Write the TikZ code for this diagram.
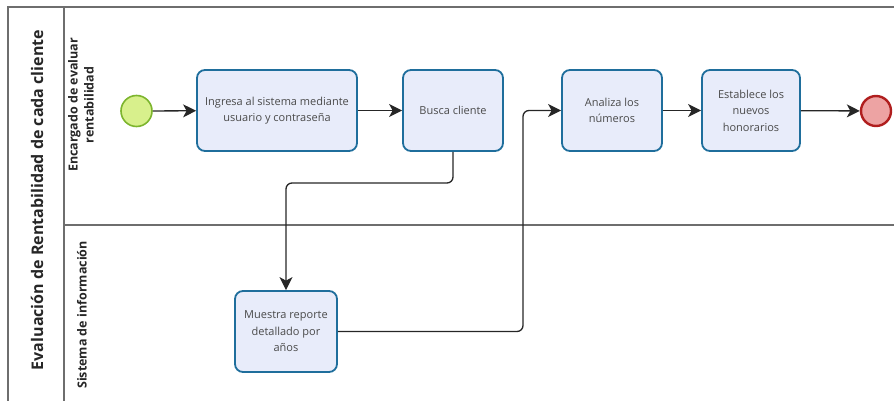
\documentclass[tikz,border=0pt]{standalone}
\usepackage{fontspec}
\setmainfont{Open Sans}
\usetikzlibrary{arrows.meta}
\definecolor{laneline}{HTML}{6E6E6E}
\definecolor{taskfill}{HTML}{E8ECFA}
\definecolor{taskdraw}{HTML}{1F6E9C}
\definecolor{startfill}{HTML}{D8F08C}
\definecolor{startdraw}{HTML}{7DB52E}
\definecolor{endfill}{HTML}{EDA3A3}
\definecolor{enddraw}{HTML}{B01E1E}
\definecolor{tasktext}{HTML}{4A4A4A}
\begin{document}
\begin{tikzpicture}[x=1pt,y=-1pt,
  lane/.style={draw=laneline,line width=1.4pt},
  task/.style={draw=taskdraw,fill=taskfill,line width=1.8pt,rounded corners=8pt,
    minimum height=81pt,inner sep=2pt,align=center,text=tasktext,
    font=\fontsize{11}{16.5}\selectfont},
  startev/.style={circle,draw=startdraw,fill=startfill,line width=1.6pt,minimum size=31pt,inner sep=0pt},
  endev/.style={circle,draw=enddraw,fill=endfill,line width=2.4pt,minimum size=30pt,inner sep=0pt},
  flow/.style={draw=black!85,line width=1.3pt,rounded corners=6pt,
    -{Stealth[length=13pt,width=13pt,inset=3.5pt]}},
  pooltitle/.style={rotate=90,font=\bfseries\fontsize{16}{18}\selectfont,text=black!85},
  lanetitle/.style={rotate=90,align=center,font=\bfseries\fontsize{12.5}{16}\selectfont,text=black!85}]
\useasboundingbox (0,0) rectangle (894,401);
% pool and lanes
\draw[lane] (8,401) -- (8,7) -- (894,7);
\draw[lane] (64,7) -- (64,401);
\draw[lane] (64,225) -- (894,225);
\node[pooltitle] (pool) at (37,200) {Evaluación de Rentabilidad de cada cliente};
\node[lanetitle] (lane1) at (81,105) {Encargado de evaluar\\rentabilidad};
\node[lanetitle] (lane2) at (82,315) {Sistema de información};
% events and tasks
\node[startev] (inicio) at (136.5,111) {};
\node[task,minimum width=160pt] (ingresa) at (277,110.5) {Ingresa al sistema mediante\\usuario y contraseña};
\node[task,minimum width=100pt] (busca) at (453,110.5) {Busca cliente};
\node[task,minimum width=100pt] (analiza) at (612,110.5) {Analiza los\\números};
\node[task,minimum width=98pt] (establece) at (751,110.5) {Establece los\\nuevos\\honorarios};
\node[endev] (fin) at (876,111) {};
\node[task,minimum width=102pt] (muestra) at (286,331.5) {Muestra reporte\\detallado por\\años};
% sequence flows
\coordinate (k1) at (453,183);
\coordinate (k2) at (523,110.5);
\draw[flow] (inicio) -- (ingresa);
\draw[flow] (ingresa) -- (busca);
\draw[flow] (busca.south) -- (k1) -| (muestra.north);
\draw[flow] (muestra.east) -| (k2) -- (analiza.west);
\draw[flow] (analiza) -- (establece);
\draw[flow] (establece) -- (fin);
\end{tikzpicture}
\end{document}
